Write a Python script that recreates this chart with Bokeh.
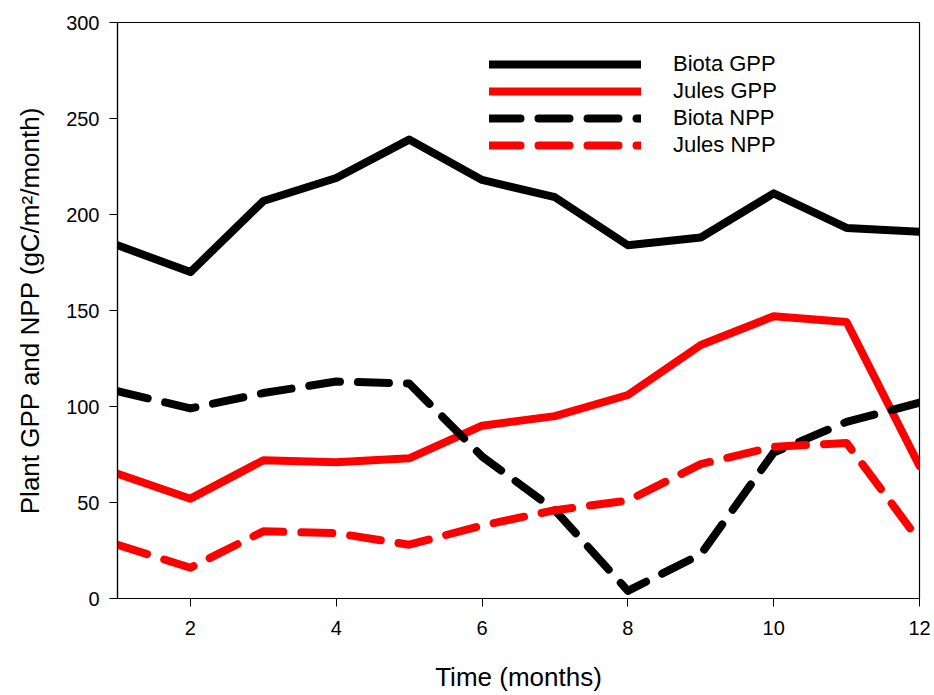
from bokeh.plotting import figure
from bokeh.models import Legend, LegendItem, FixedTicker
from bokeh.embed import file_html
from bokeh.resources import INLINE

months = [1, 2, 3, 4, 5, 6, 7, 8, 9, 10, 11, 12]
biota_gpp = [184, 170, 207, 219, 239, 218, 209, 184, 188, 211, 193, 191]
jules_gpp = [65, 52, 72, 71, 73, 90, 95, 106, 132, 147, 144, 69]
biota_npp = [108, 99, 107, 113, 112, 74, 46, 4, 23, 76, 92, 102]
jules_npp = [28, 16, 35, 34, 28, 38, 46, 51, 70, 79, 81, 30]
x_ticks = [2, 4, 6, 8, 10, 12]
y_ticks = [0, 50, 100, 150, 200, 250, 300]

FONT = "Liberation Sans"

p = figure(width=934, height=695, x_range=(1, 12), y_range=(0, 300),
           output_backend="svg", toolbar_location=None,
           min_border_left=117, min_border_right=15, min_border_top=22, min_border_bottom=97)

p.grid.visible = False
p.outline_line_color = "black"
p.outline_line_width = 1.2
p.background_fill_color = "white"
p.border_fill_color = "white"

for ax in (p.xaxis[0], p.yaxis[0]):
    ax.axis_line_color = "black"
    ax.axis_line_width = 1.2
    ax.major_tick_line_color = "black"
    ax.major_tick_out = 8
    ax.major_tick_in = 0
    ax.minor_tick_line_color = None
    ax.major_label_text_font = FONT
    ax.major_label_text_font_size = "20px"
    ax.major_label_text_color = "black"
    ax.axis_label_text_font = FONT
    ax.axis_label_text_font_size = "26px"
    ax.axis_label_text_font_style = "normal"
    ax.axis_label_text_color = "black"

p.xaxis.ticker = FixedTicker(ticks=x_ticks)
p.yaxis.ticker = FixedTicker(ticks=y_ticks)
p.xaxis.axis_label = "Time (months)"
p.yaxis.axis_label = "Plant GPP and NPP (gC/m²/month)"
p.xaxis.major_label_standoff = 14
p.xaxis.axis_label_standoff = 24
p.yaxis.major_label_standoff = 10
p.yaxis.axis_label_standoff = 18

lw = 8
r1 = p.line(months, biota_gpp, line_color="black", line_width=lw, line_cap="round", line_join="round")
r2 = p.line(months, jules_gpp, line_color="#ff0000", line_width=lw, line_cap="round", line_join="round")
r3 = p.line(months, biota_npp, line_color="black", line_width=lw, line_dash="31 18", line_cap="round", line_join="round")
r4 = p.line(months, jules_npp, line_color="#ff0000", line_width=lw, line_dash="31 18", line_cap="round", line_join="round")

legend = Legend(items=[
    LegendItem(label="Biota GPP", renderers=[r1]),
    LegendItem(label="Jules GPP", renderers=[r2]),
    LegendItem(label="Biota NPP", renderers=[r3]),
    LegendItem(label="Jules NPP", renderers=[r4]),
], location=(372, 440))
legend.glyph_width = 152
legend.glyph_height = 20
legend.label_height = 20
legend.spacing = 1
legend.label_standoff = 32
legend.padding = 0
legend.margin = 0
legend.border_line_color = None
legend.background_fill_alpha = 0
legend.label_text_font = FONT
legend.label_text_font_size = "22px"
legend.label_text_color = "black"
p.add_layout(legend)

open("out.html", "w").write(file_html(p, INLINE))
